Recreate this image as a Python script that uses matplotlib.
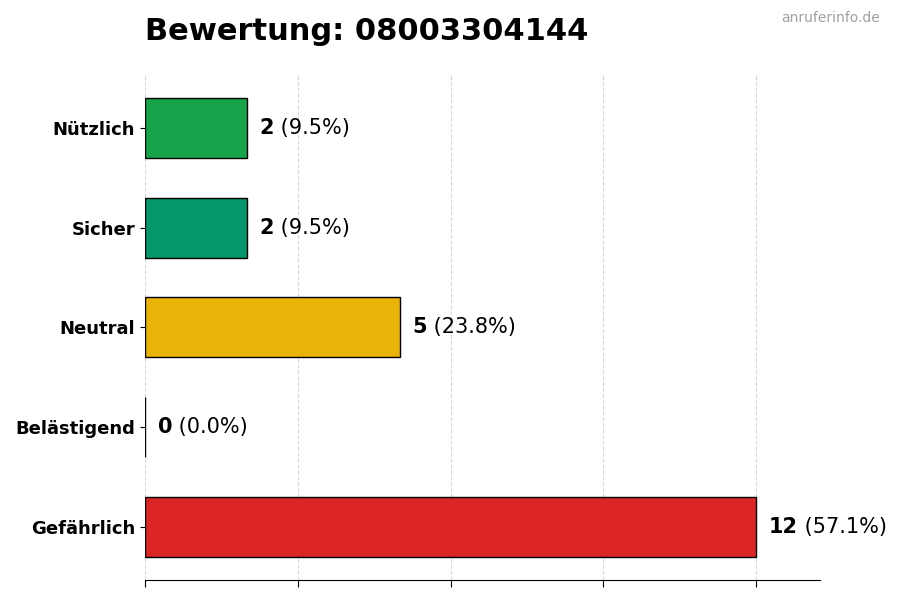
import matplotlib
matplotlib.use("Agg")
import matplotlib.pyplot as plt

# data, top to bottom as in the chart
categories = ["Nützlich", "Sicher", "Neutral", "Belästigend", "Gefährlich"]
counts = [2, 2, 5, 0, 12]
colors = ["#16a34a", "#059669", "#eab308", "#dc2626", "#dc2626"]
number = "08003304144"

total = sum(counts)

fig = plt.figure(figsize=(9, 6), dpi=100)
ax = fig.add_axes([0.161, 0.0333, 0.75, 0.842])

ypos = list(range(len(categories)))[::-1]
ax.barh(ypos, counts, height=0.6, color=colors, edgecolor="black", linewidth=1, zorder=3)

for y, c in zip(ypos, counts):
    pct = 100.0 * c / total
    t = ax.text(c + 0.25, y, str(c), fontsize=15, fontweight="bold", va="center", ha="left")
    ax.annotate(" (%.1f%%)" % pct, xy=(1, 0.5), xycoords=t, va="center", ha="left", fontsize=15)

ax.set_yticks(ypos)
ax.set_yticklabels(categories, fontsize=13, fontweight="bold")
ax.set_xlim(0, 13.25)
ax.set_xticks([0, 3, 6, 9, 12])
ax.set_xticklabels([])
ax.tick_params(axis="x", length=5)
ax.grid(axis="x", linestyle="--", color="#d8d8d8", linewidth=0.8, zorder=0)
ax.set_axisbelow(True)

for s in ["top", "right", "left"]:
    ax.spines[s].set_visible(False)

fig.text(0.161, 0.947, "Bewertung: " + number, fontsize=22, fontweight="bold", ha="left", va="center")
fig.text(0.978, 0.97, "anruferinfo.de", fontsize=10, color="#a0a0a0", ha="right", va="center")

fig.savefig("out.png", dpi=100)
